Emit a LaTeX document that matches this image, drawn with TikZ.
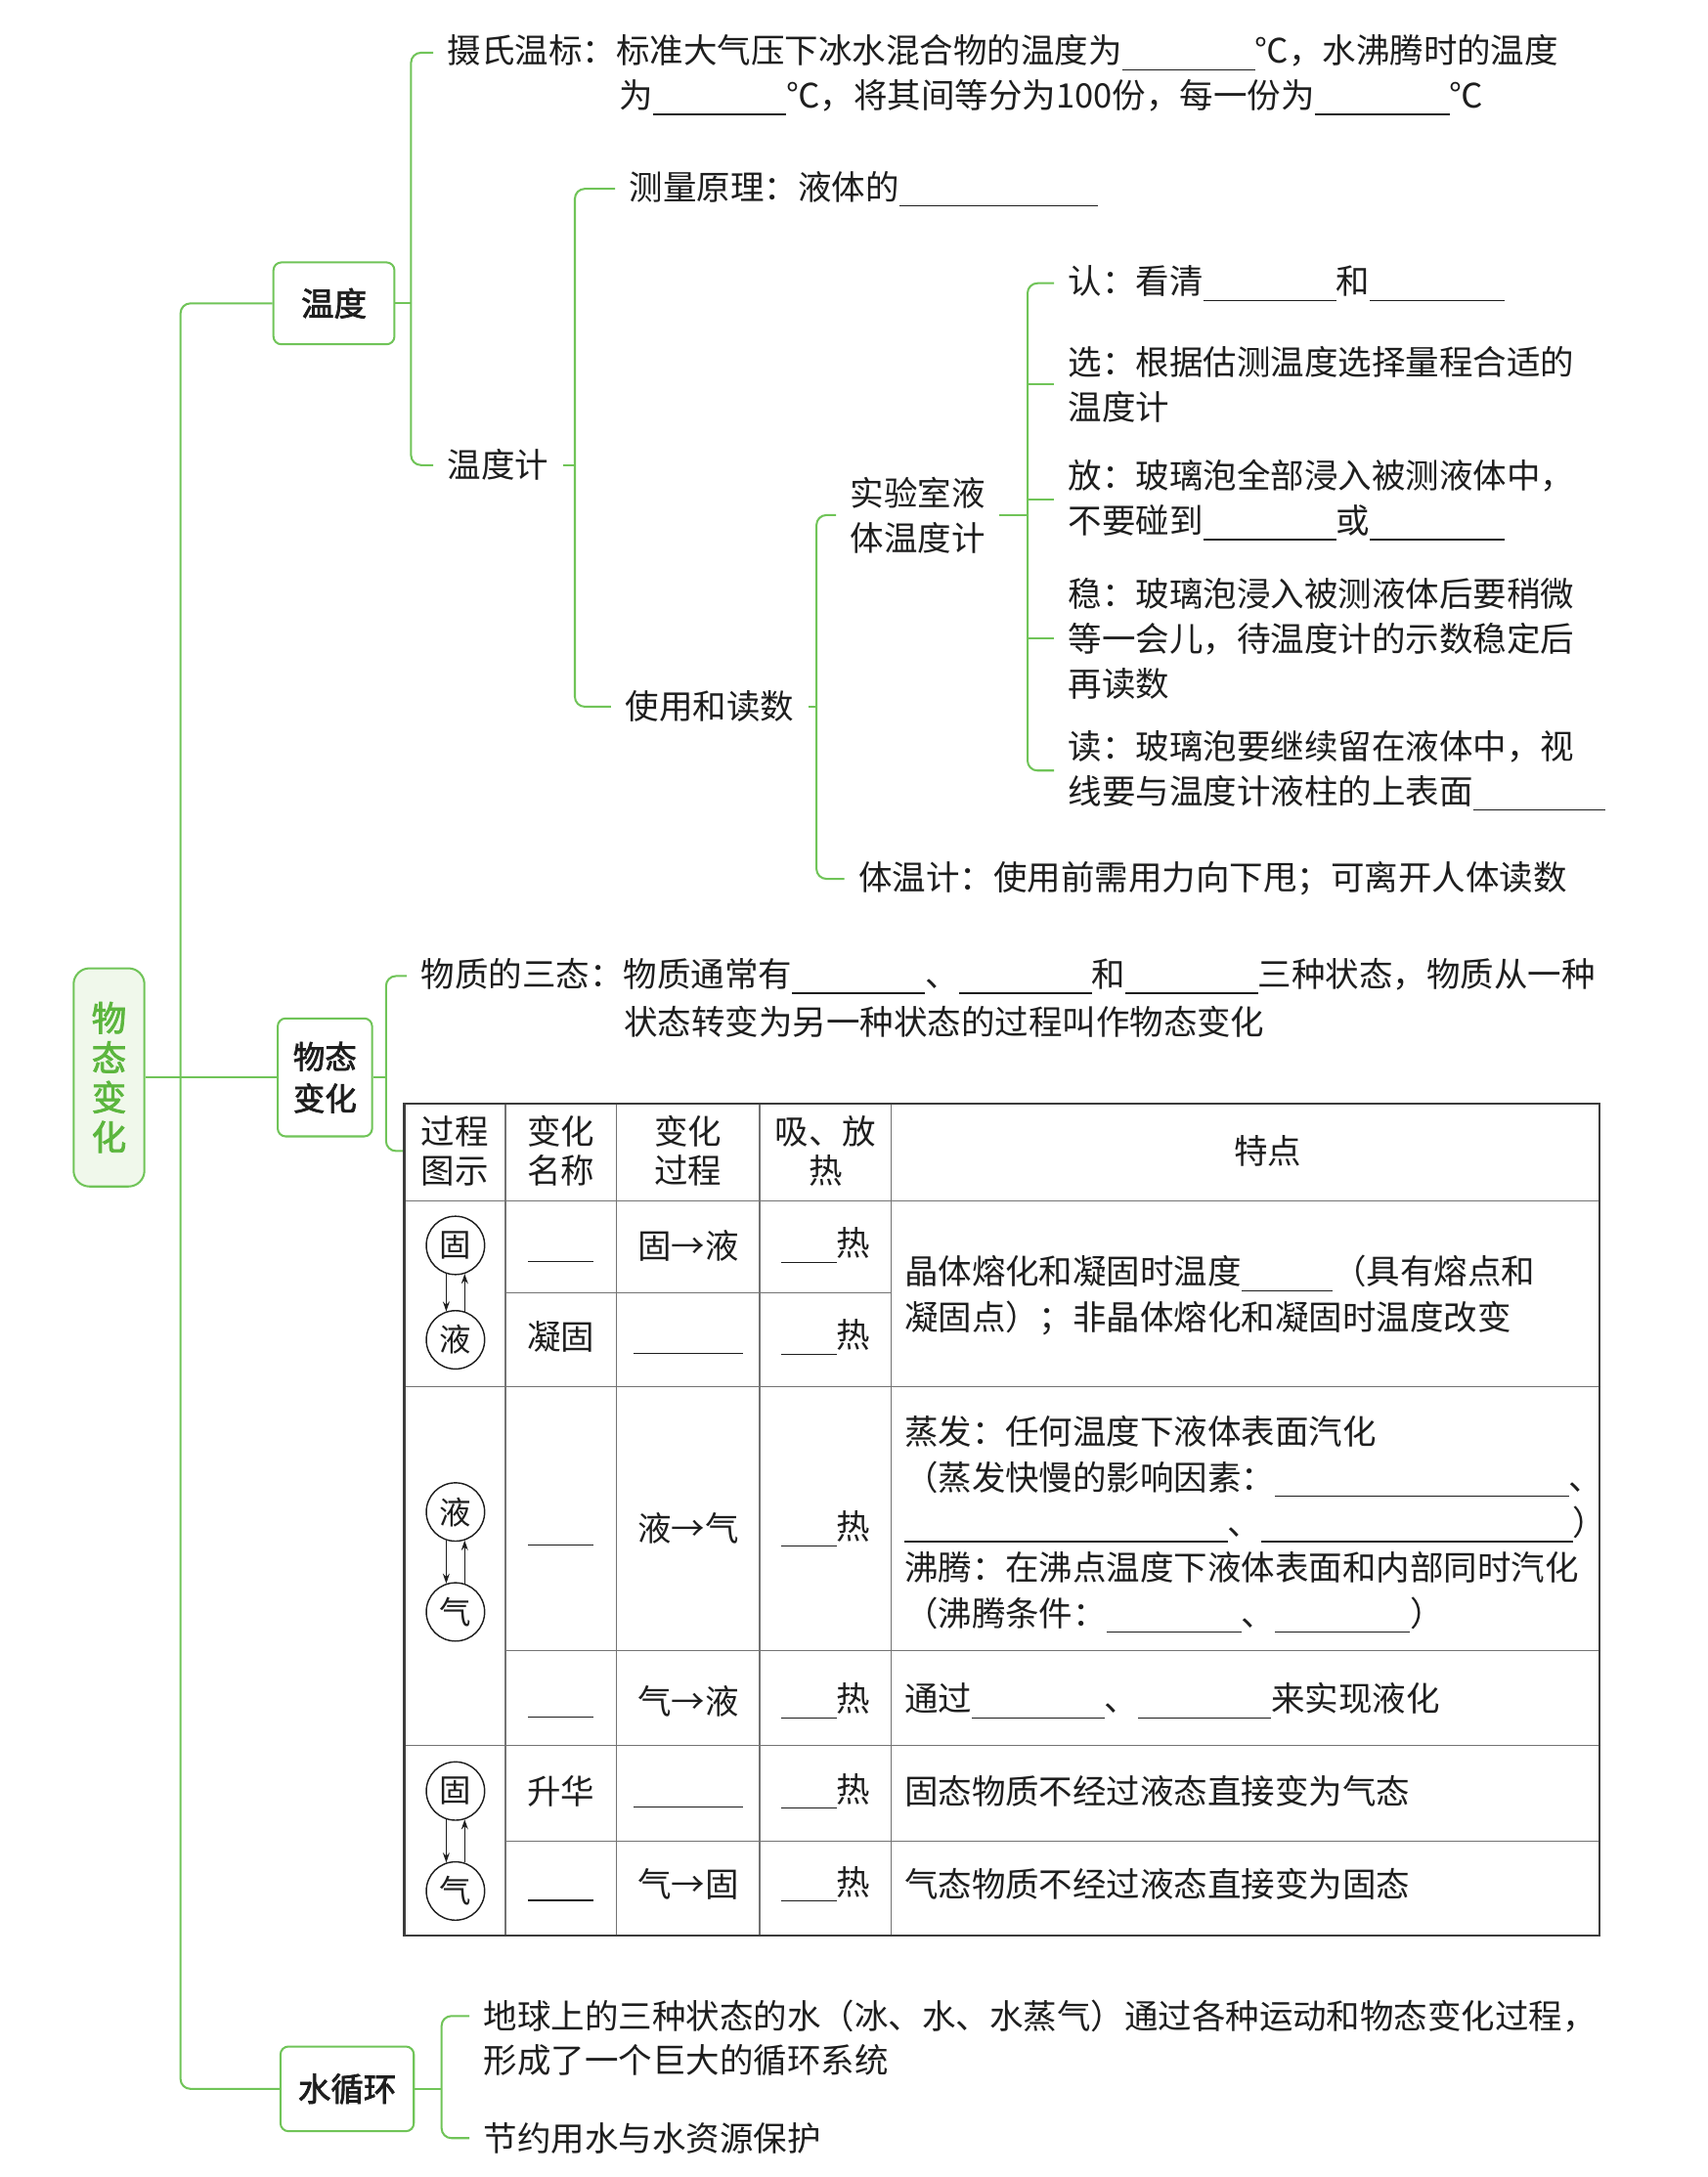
\documentclass[tikz,border=0pt]{standalone}
\usepackage{fontspec}
\setmainfont{Noto Sans CJK SC}
\newfontfamily\boxfam{Noto Sans CJK SC}[FakeBold=2.2]
\usetikzlibrary{arrows.meta}
\definecolor{lgreen}{RGB}{112,196,88}
\definecolor{rootfill}{RGB}{240,248,235}
\definecolor{roottext}{RGB}{92,182,62}
\definecolor{txtc}{RGB}{30,30,30}
\definecolor{tline}{RGB}{60,60,60}
\definecolor{tinner}{RGB}{115,115,115}
\newcommand\myfont{\fontsize{17}{22.8}\selectfont}
\newcommand\cellfont{\fontsize{17}{19.6}\selectfont}
\newcommand\circfont{\fontsize{16}{18}\selectfont}
\newcommand\boxfnt{\boxfam\fontsize{16.5}{20}\selectfont}
\newcommand\boxfntb{\boxfam\fontsize{16}{21}\selectfont}
\newcommand\rootfnt{\boxfam\fontsize{17.5}{20}\selectfont}
\newcommand\blank[1]{\rule[-3.5pt]{#1pt}{0.6pt}}
\tikzset{
  conn/.style={draw=lgreen, line width=1pt, rounded corners=5pt},
  tx/.style={anchor=west, inner xsep=7pt, inner ysep=0pt, align=left, font=\myfont, text=txtc},
  cell/.style={inner sep=0pt, align=center, font=\myfont, text=txtc},
  ctx/.style={anchor=west, inner sep=0pt, align=left, font=\myfont, text=txtc},
  boxn/.style={draw=lgreen, line width=1pt, rounded corners=4pt, fill=white, font=\boxfnt, text=txtc, inner sep=0pt, align=center},
  rootn/.style={draw=lgreen, fill=rootfill, line width=1pt, rounded corners=8pt, font=\rootfnt, text=roottext, inner sep=0pt, align=center, minimum width=35.7pt, minimum height=110pt},
  stc/.style={circle, draw=txtc, line width=0.7pt, minimum size=29.4pt, inner sep=0pt, font=\circfont, text=txtc},
  arr/.style={-{Stealth[length=5pt,width=3.4pt]}, line width=0.7pt, draw=txtc},
  touter/.style={draw=tline, line width=1.2pt},
  tin/.style={draw=tinner, line width=0.6pt},
}
\begin{document}
\begin{tikzpicture}[x=0.7pt,y=-0.7pt]
\useasboundingbox (0,0) rectangle (1230,1568);
\fill[white] (0,0) rectangle (1230,1568);

% bracket x positions
\coordinate (k0) at (130,0);
\coordinate (k1) at (296,0);
\coordinate (k2) at (414,0);
\coordinate (k3) at (588,0);
\coordinate (k4) at (740,0);
\coordinate (k5) at (278,0);
\coordinate (k6) at (318,0);
\coordinate (tbl) at (291,829);

% boxes
\node[rootn] (root) at (78.5,776) {物\\态\\变\\化};
\node[boxn, minimum width=61pt, minimum height=41.3pt] (wendu) at (240.5,218.5) {温度};
\node[boxn, minimum width=47.6pt, minimum height=59.5pt, font=\boxfntb] (wutai) at (234,776) {物态\\变化};
\node[boxn, minimum width=67.2pt, minimum height=42.7pt] (shui) at (250,1504.5) {水循环};

% texts
\node[tx] (sheshi) at (312,38) {摄氏温标：标准大气压下冰水混合物的温度为\blank{67}℃，水沸腾时的温度};
\node[tx] (sheshiB) at (436,70) {为\blank{67}℃，将其间等分为100份，每一份为\blank{68}℃};
\node[tx] (wdj) at (312,335) {温度计};
\node[tx] (celiang) at (443,136) {测量原理：液体的\blank{100}};
\node[tx] (shiyong) at (440,509) {使用和读数};
\node[tx] (shiyanshi) at (602,371) {实验室液\\体温度计};
\node[tx] (tiwenji) at (608,633) {体温计：使用前需用力向下甩；可离开人体读数};
\node[tx] (ren) at (759,204) {认：看清\blank{67}和\blank{68}};
\node[tx] (xuan) at (759,277) {选：根据估测温度选择量程合适的\\温度计};
\node[tx] (fang) at (759,360) {放：玻璃泡全部浸入被测液体中，\\不要碰到\blank{67}或\blank{68}};
\node[tx] (wen) at (759,460) {稳：玻璃泡浸入被测液体后要稍微\\等一会儿，待温度计的示数稳定后\\再读数};
\node[tx] (du) at (759,555) {读：玻璃泡要继续留在液体中，视\\线要与温度计液柱的上表面\blank{67}};
\node[tx] (santai) at (293,703) {物质的三态：物质通常有\blank{67}、\blank{67}和\blank{67}三种状态，物质从一种};
\node[tx] (santaiB) at (439,736) {状态转变为另一种状态的过程叫作物态变化};
\node[tx] (diqiu) at (338,1452) {地球上的三种状态的水（冰、水、水蒸气）通过各种运动和物态变化过程，};
\node[tx] (diqiuB) at (338,1484) {形成了一个巨大的循环系统};
\node[tx] (jieyue) at (338,1540) {节约用水与水资源保护};

% connectors
\draw[conn] (wendu.west) -- (wendu.west -| k0) -- (shui.west -| k0) -- (shui.west);
\draw[conn] (root.east) -- (wutai.west);
\draw[conn] (wendu.east) -- (wendu.east -| k1);
\draw[conn] (sheshi.west) -- (sheshi.west -| k1) -- (wdj.west -| k1) -- (wdj.west);
\draw[conn] (wdj.east) -- (wdj.east -| k2);
\draw[conn] (celiang.west) -- (celiang.west -| k2) -- (shiyong.west -| k2) -- (shiyong.west);
\draw[conn] (shiyong.east) -- (shiyong.east -| k3);
\draw[conn] (shiyanshi.west) -- (shiyanshi.west -| k3) -- (tiwenji.west -| k3) -- (tiwenji.west);
\draw[conn] (shiyanshi.east) -- (shiyanshi.east -| k4);
\draw[conn] (ren.west) -- (ren.west -| k4) -- (du.west -| k4) -- (du.west);
\draw[conn] (xuan.west) -- (xuan.west -| k4);
\draw[conn] (fang.west) -- (fang.west -| k4);
\draw[conn] (wen.west) -- (wen.west -| k4);
\draw[conn] (wutai.east) -- (wutai.east -| k5);
\draw[conn] (santai.west) -- (santai.west -| k5) -- (tbl -| k5) -- (tbl);
\draw[conn] (shui.east) -- (shui.east -| k6);
\draw[conn] (diqiu.west) -- (diqiu.west -| k6) -- (jieyue.west -| k6) -- (jieyue.west);

% table grid
\foreach \cx in {364,444,547,642} \draw[tin] (\cx,795) -- (\cx,1394);
\foreach \ry in {865,999,1257} \draw[tin] (291,\ry) -- (1152,\ry);
\draw[tin] (364,931) -- (642,931);
\draw[tin] (364,1189) -- (1152,1189);
\draw[tin] (364,1326) -- (1152,1326);
\draw[touter] (291,795) rectangle (1152,1394);

% header
\node[cell, font=\cellfont] (h1) at (327.5,829) {过程\\图示};
\node[cell, font=\cellfont] (h2) at (404,829) {变化\\名称};
\node[cell, font=\cellfont] (h3) at (495.5,829) {变化\\过程};
\node[cell, font=\cellfont] (h4) at (594.5,829) {吸、放\\热};
\node[cell] (h5) at (913,829) {特点};

% state circles
\node[stc] (s1) at (328,897) {固};
\node[stc] (s2) at (328,965) {液};
\node[stc] (s3) at (328,1089) {液};
\node[stc] (s4) at (328,1161) {气};
\node[stc] (s5) at (328,1290) {固};
\node[stc] (s6) at (328,1362) {气};
\draw[arr] (s1.252) -- (s2.108);
\draw[arr] (s2.72) -- (s1.288);
\draw[arr] (s3.252) -- (s4.108);
\draw[arr] (s4.72) -- (s3.288);
\draw[arr] (s5.252) -- (s6.108);
\draw[arr] (s6.72) -- (s5.288);

% rows
\node[cell] (r1b) at (404,897) {\vphantom{固}\blank{33}};
\node[cell] (r1c) at (495.5,897) {固→液};
\node[cell] (r1d) at (594.5,897) {\blank{28}热};
\node[cell] (r2b) at (404,963) {凝固};
\node[cell] (r2c) at (495.5,963) {\vphantom{固}\blank{55}};
\node[cell] (r2d) at (594.5,963) {\blank{28}热};
\node[ctx] (f1) at (651,933) {晶体熔化和凝固时温度\blank{46}（具有熔点和\\凝固点）；非晶体熔化和凝固时温度改变};

\node[cell] (r3b) at (404,1101) {\vphantom{固}\blank{33}};
\node[cell] (r3c) at (495.5,1101) {液→气};
\node[cell] (r3d) at (594.5,1101) {\blank{28}热};
\node[ctx] (f3) at (651,1098) {蒸发：任何温度下液体表面汽化\\（蒸发快慢的影响因素：\blank{148}、\\\blank{163}、\blank{157}）\\沸腾：在沸点温度下液体表面和内部同时汽化\\（沸腾条件：\blank{68}、\blank{68}）};

\node[cell] (r4b) at (404,1225) {\vphantom{固}\blank{33}};
\node[cell] (r4c) at (495.5,1225) {气→液};
\node[cell] (r4d) at (594.5,1225) {\blank{28}热};
\node[ctx] (f4) at (651,1225) {通过\blank{67}、\blank{67}来实现液化};

\node[cell] (r5b) at (404,1290) {升华};
\node[cell] (r5c) at (495.5,1290) {\vphantom{固}\blank{55}};
\node[cell] (r5d) at (594.5,1290) {\blank{28}热};
\node[ctx] (f5) at (651,1290) {固态物质不经过液态直接变为气态};

\node[cell] (r6b) at (404,1357) {\vphantom{固}\blank{33}};
\node[cell] (r6c) at (495.5,1357) {气→固};
\node[cell] (r6d) at (594.5,1357) {\blank{28}热};
\node[ctx] (f6) at (651,1357) {气态物质不经过液态直接变为固态};
\end{tikzpicture}
\end{document}
